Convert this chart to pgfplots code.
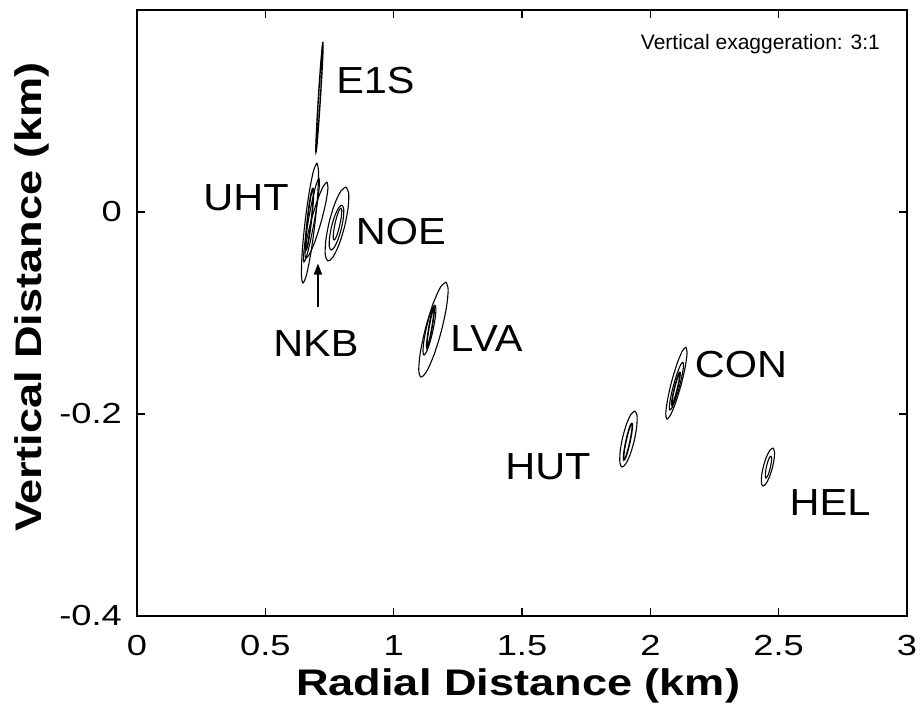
\documentclass[border=0pt]{standalone}
\usepackage{fontspec}
\setmainfont{Liberation Sans}
\newfontfamily\lab{Liberation Sans}[FakeStretch=1.1]
\newfontfamily\tck{Liberation Sans}[FakeStretch=1.25]
\newfontfamily\axl{Liberation Sans}[FakeStretch=1.22]
\usepackage{pgfplots}
\pgfplotsset{compat=1.18}
\usetikzlibrary{arrows.meta}
\begin{document}
\begin{tikzpicture}
\begin{axis}[
  name=ax,
  scale only axis, width=770pt, height=606pt,
  xmin=0, xmax=3, ymin=-0.4, ymax=0.2,
  axis line style={line width=2.2pt},
  tick align=inside, tick pos=both,
  major tick length=8pt,
  every tick/.style={line width=1.6pt, black},
  xtick={0,0.5,1,1.5,2,2.5,3},
  xticklabels={0,0.5,1,1.5,2,2.5,3},
  ytick={-0.4,-0.2,0},
  yticklabels={-0.4,-0.2,0},
  xticklabel style={font=\tck\fontsize{29}{31}\selectfont, inner sep=0pt, anchor=north, yshift=-19pt},
  yticklabel style={font=\tck\fontsize{29}{31}\selectfont, inner sep=0pt, anchor=east, xshift=-15pt},
  xlabel={Radial Distance (km)},
  ylabel={Vertical Distance (km)},
  xlabel style={font=\axl\bfseries\fontsize{37}{40}\selectfont, at={(axis description cs:0.495,-0.1304)}, anchor=base, inner sep=0pt},
  ylabel style={font=\axl\bfseries\fontsize{37}{40}\selectfont, at={(axis description cs:-0.1234,0.526)}, rotate=0, anchor=base, inner sep=0pt},
  every axis plot/.append style={black, line width=1.1pt},
  clip=true,
]
% E1S
\addplot[smooth, line width=1.4pt] coordinates {(0.7245,0.1684)(0.7247,0.1611)(0.7211,0.1411)(0.7148,0.1139)(0.7075,0.0866)(0.7011,0.0667)(0.6973,0.0594)(0.6972,0.0667)(0.7007,0.0867)(0.7070,0.1139)(0.7143,0.1411)(0.7208,0.1611)(0.7245,0.1684)};
% UHT
\addplot[smooth] coordinates {(0.7012,0.0485)(0.7072,0.0403)(0.7043,0.0183)(0.6933,-0.0115)(0.6770,-0.0411)(0.6600,-0.0626)(0.6466,-0.0703)(0.6406,-0.0621)(0.6435,-0.0401)(0.6545,-0.0103)(0.6708,0.0193)(0.6878,0.0409)(0.7012,0.0485)};
\addplot[smooth] coordinates {(0.7402,0.0297)(0.7441,0.0240)(0.7360,0.0098)(0.7181,-0.0092)(0.6951,-0.0279)(0.6733,-0.0412)(0.6584,-0.0455)(0.6545,-0.0398)(0.6626,-0.0256)(0.6805,-0.0066)(0.7035,0.0120)(0.7253,0.0253)(0.7402,0.0297)};
\addplot[smooth] coordinates {(0.7090,0.0337)(0.7109,0.0278)(0.7044,0.0124)(0.6913,-0.0084)(0.6751,-0.0292)(0.6603,-0.0442)(0.6506,-0.0495)(0.6488,-0.0437)(0.6552,-0.0283)(0.6683,-0.0074)(0.6845,0.0133)(0.6994,0.0284)(0.7090,0.0337)};
\addplot[smooth, line width=1.6pt] coordinates {(0.6856,0.0238)(0.6877,0.0195)(0.6855,0.0082)(0.6798,-0.0072)(0.6719,-0.0225)(0.6641,-0.0336)(0.6584,-0.0376)(0.6563,-0.0334)(0.6585,-0.0221)(0.6643,-0.0067)(0.6721,0.0086)(0.6799,0.0198)(0.6856,0.0238)};
% NOE
\addplot[smooth] coordinates {(0.8142,0.0248)(0.8246,0.0189)(0.8228,0.0048)(0.8094,-0.0138)(0.7878,-0.0318)(0.7639,-0.0445)(0.7440,-0.0485)(0.7336,-0.0427)(0.7354,-0.0286)(0.7488,-0.0100)(0.7704,0.0081)(0.7943,0.0208)(0.8142,0.0248)};
\addplot[smooth] coordinates {(0.7986,0.0069)(0.8052,0.0034)(0.8043,-0.0052)(0.7961,-0.0165)(0.7829,-0.0275)(0.7681,-0.0352)(0.7558,-0.0376)(0.7492,-0.0341)(0.7501,-0.0255)(0.7583,-0.0142)(0.7715,-0.0032)(0.7863,0.0045)(0.7986,0.0069)};
\addplot[smooth] coordinates {(0.7947,0.0040)(0.7977,0.0016)(0.7962,-0.0044)(0.7906,-0.0124)(0.7825,-0.0203)(0.7741,-0.0259)(0.7675,-0.0277)(0.7645,-0.0253)(0.7661,-0.0193)(0.7716,-0.0114)(0.7797,-0.0035)(0.7881,0.0021)(0.7947,0.0040)};
% LVA
\addplot[smooth] coordinates {(1.2037,-0.0693)(1.2123,-0.0766)(1.2055,-0.0946)(1.1852,-0.1184)(1.1568,-0.1416)(1.1279,-0.1581)(1.1063,-0.1634)(1.0977,-0.1561)(1.1045,-0.1381)(1.1249,-0.1143)(1.1532,-0.0911)(1.1821,-0.0746)(1.2037,-0.0693)};
\addplot[smooth] coordinates {(1.1609,-0.0921)(1.1647,-0.0958)(1.1618,-0.1051)(1.1528,-0.1176)(1.1403,-0.1299)(1.1276,-0.1386)(1.1181,-0.1416)(1.1143,-0.1379)(1.1173,-0.1286)(1.1262,-0.1161)(1.1387,-0.1038)(1.1514,-0.0950)(1.1609,-0.0921)};
\addplot[smooth, line width=1.6pt] coordinates {(1.1570,-0.0941)(1.1581,-0.0969)(1.1552,-0.1044)(1.1492,-0.1146)(1.1416,-0.1247)(1.1345,-0.1321)(1.1298,-0.1347)(1.1287,-0.1318)(1.1316,-0.1243)(1.1376,-0.1141)(1.1452,-0.1040)(1.1523,-0.0967)(1.1570,-0.0941)};
% CON
\addplot[smooth] coordinates {(2.1387,-0.1337)(2.1432,-0.1391)(2.1365,-0.1526)(2.1205,-0.1706)(2.0995,-0.1882)(2.0791,-0.2008)(2.0647,-0.2050)(2.0602,-0.1995)(2.0669,-0.1860)(2.0829,-0.1680)(2.1039,-0.1504)(2.1243,-0.1378)(2.1387,-0.1337)};
\addplot[smooth] coordinates {(2.1270,-0.1485)(2.1293,-0.1521)(2.1242,-0.1611)(2.1130,-0.1731)(2.0988,-0.1848)(2.0855,-0.1933)(2.0764,-0.1960)(2.0742,-0.1925)(2.0792,-0.1835)(2.0904,-0.1715)(2.1046,-0.1597)(2.1180,-0.1513)(2.1270,-0.1485)};
\addplot[smooth, line width=1.6pt] coordinates {(2.1153,-0.1584)(2.1160,-0.1608)(2.1124,-0.1669)(2.1054,-0.1751)(2.0968,-0.1832)(2.0891,-0.1891)(2.0841,-0.1911)(2.0834,-0.1887)(2.0870,-0.1826)(2.0940,-0.1744)(2.1026,-0.1663)(2.1103,-0.1604)(2.1153,-0.1584)};
% HUT
\addplot[smooth] coordinates {(1.9400,-0.1970)(1.9480,-0.2014)(1.9471,-0.2121)(1.9375,-0.2261)(1.9218,-0.2398)(1.9042,-0.2494)(1.8894,-0.2525)(1.8814,-0.2481)(1.8823,-0.2374)(1.8919,-0.2234)(1.9076,-0.2097)(1.9252,-0.2001)(1.9400,-0.1970)};
\addplot[smooth, line width=1.6pt] coordinates {(1.9284,-0.2089)(1.9301,-0.2116)(1.9272,-0.2184)(1.9204,-0.2277)(1.9116,-0.2368)(1.9031,-0.2433)(1.8972,-0.2456)(1.8955,-0.2429)(1.8984,-0.2360)(1.9052,-0.2268)(1.9140,-0.2177)(1.9225,-0.2112)(1.9284,-0.2089)};
% HEL
\addplot[smooth] coordinates {(2.4776,-0.2337)(2.4835,-0.2368)(2.4825,-0.2441)(2.4751,-0.2536)(2.4630,-0.2629)(2.4497,-0.2693)(2.4386,-0.2713)(2.4327,-0.2682)(2.4337,-0.2609)(2.4412,-0.2513)(2.4532,-0.2421)(2.4665,-0.2356)(2.4776,-0.2337)};
\addplot[smooth] coordinates {(2.4698,-0.2416)(2.4723,-0.2433)(2.4716,-0.2474)(2.4677,-0.2529)(2.4618,-0.2583)(2.4555,-0.2621)(2.4504,-0.2634)(2.4479,-0.2617)(2.4486,-0.2576)(2.4525,-0.2520)(2.4584,-0.2467)(2.4647,-0.2428)(2.4698,-0.2416)};
% NKB arrow
\addplot[line width=1.8pt, -{Triangle[length=11pt,width=8pt]}] coordinates {(0.705,-0.0940) (0.705,-0.0510)};
% labels
\node[font=\lab\fontsize{37.7}{40}\selectfont, inner sep=0pt] at (axis cs:0.929,0.130) {E1S};
\node[font=\lab\fontsize{37.7}{40}\selectfont, inner sep=0pt] at (axis cs:0.425,0.0139) {UHT};
\node[font=\lab\fontsize{37.7}{40}\selectfont, inner sep=0pt] at (axis cs:1.028,-0.0198) {NOE};
\node[font=\lab\fontsize{37.7}{40}\selectfont, inner sep=0pt] at (axis cs:0.697,-0.1307) {NKB};
\node[font=\lab\fontsize{37.7}{40}\selectfont, inner sep=0pt] at (axis cs:1.3615,-0.1248) {LVA};
\node[font=\lab\fontsize{37.7}{40}\selectfont, inner sep=0pt] at (axis cs:2.353,-0.1515) {CON};
\node[font=\lab\fontsize{37.7}{40}\selectfont, inner sep=0pt] at (axis cs:1.601,-0.2525) {HUT};
\node[font=\lab\fontsize{37.7}{40}\selectfont, inner sep=0pt] at (axis cs:2.700,-0.288) {HEL};
\node[font=\fontsize{21}{24}\selectfont, inner sep=0pt, anchor=base east] at (axis description cs:0.965,0.9356) {Vertical exaggeration: 3:1};
\node[font=\axl\bfseries\fontsize{37}{40}\selectfont, inner sep=0pt, anchor=base east] at (axis description cs:-0.1416,0.9917) {b)};
\end{axis}
\pgfresetboundingbox
\path[use as bounding box] ([shift={(-137pt,-106pt)}]ax.south west) rectangle ([shift={(14pt,10pt)}]ax.north east);
\end{tikzpicture}
\end{document}
